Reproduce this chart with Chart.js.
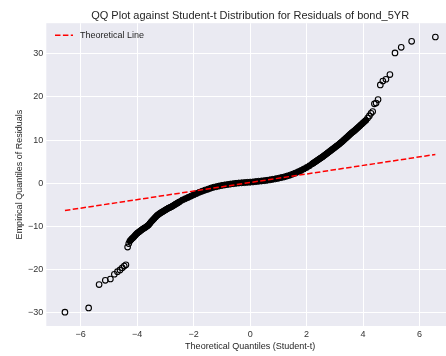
<!DOCTYPE html>
<html><head><meta charset="utf-8">
<script src="https://cdn.jsdelivr.net/npm/chart.js@4/dist/chart.umd.min.js"></script>
<style>
html,body{margin:0;padding:0;background:#fff;overflow:hidden;}
#clip{width:446px;height:356px;overflow:hidden;position:relative;}
#wrap{width:460px;height:356px;position:absolute;left:0;top:0;}
</style></head><body>
<div id="clip"><div id="wrap"><canvas id="c"></canvas></div></div>
<script>
// ---- data ----
const xTickValues = [-6, -4, -2, 0, 2, 4, 6];
const yTickValues = [-30, -20, -10, 0, 10, 20, 30];

const lineX = [-6.56, 6.56];
const lineY = [-6.33, 6.66];

const lowerTailX = [-6.56, -5.72, -5.35, -5.13, -4.95, -4.81, -4.70, -4.61, -4.53, -4.46, -4.40, -4.34, -4.30];
const lowerTailY = [-29.9, -28.9, -23.5, -22.5, -22.2, -21.1, -20.5, -20.1, -19.6, -19.2, -18.9, -14.8, -14.0];

const bodyX = [-4.26,-4.22,-4.18,-4.14,-4.10,-4.06,-4.02,-3.98,-3.94,-3.90,-3.85,-3.80,-3.75,-3.70,-3.65,-3.60,-3.55,-3.50,-3.45,-3.40,-3.35,-3.30,-3.25,-3.20,-3.15,-3.10,-3.05,-3.00,-2.95,-2.90,-2.85,-2.80,-2.75,-2.70,-2.65,-2.60,-2.55,-2.50,
  -2.40,-2.30,-2.20,-2.10,-2.00,-1.90,-1.80,-1.70,-1.60,-1.50,-1.40,-1.30,-1.20,-1.10,-1.00,-0.90,-0.80,-0.70,-0.60,-0.50,-0.40,-0.30,-0.20,-0.10,
  0.00,0.10,0.20,0.30,0.40,0.50,0.60,0.70,0.80,0.90,1.00,1.10,1.20,1.30,1.40,1.50,1.60,1.70,1.80,1.90,2.00,2.10,2.20,
  2.25,2.30,2.35,2.40,2.45,2.50,2.55,2.60,2.65,2.70,2.75,2.80,2.85,2.90,2.95,3.00,3.05,3.10,3.15,3.20,3.25,3.30,3.35,3.40,3.45,3.50,3.55,3.60,3.65,3.70,3.75,3.80,3.85,3.90,3.95,4.00,4.05,4.10];
const bodyY = [-13.4,-13.1,-12.8,-12.6,-12.3,-12.0,-11.7,-11.5,-11.3,-11.1,-10.85,-10.6,-10.4,-10.2,-9.95,-9.7,-9.3,-8.9,-8.55,-8.2,-7.85,-7.5,-7.25,-7.0,-6.8,-6.6,-6.4,-6.2,-6.0,-5.8,-5.65,-5.5,-5.3,-5.1,-4.9,-4.7,-4.5,-4.3,
  -3.9,-3.6,-3.3,-3.0,-2.7,-2.4,-2.1,-1.85,-1.6,-1.4,-1.15,-0.95,-0.8,-0.65,-0.5,-0.4,-0.3,-0.2,-0.1,-0.02,0.05,0.1,0.15,0.2,
  0.25,0.3,0.38,0.45,0.52,0.6,0.68,0.78,0.9,1.02,1.15,1.3,1.45,1.65,1.85,2.1,2.35,2.65,2.95,3.3,3.65,4.05,4.5,
  4.72,4.95,5.17,5.4,5.62,5.85,6.05,6.3,6.55,6.8,7.05,7.3,7.55,7.8,8.05,8.3,8.55,8.8,9.05,9.35,9.6,9.9,10.2,10.5,10.8,11.1,11.4,11.7,11.95,12.2,12.5,12.8,13.1,13.4,13.7,14.0,14.3,14.6];

const upperTailX = [4.16, 4.22, 4.28, 4.34, 4.40, 4.46, 4.53, 4.61, 4.70, 4.81, 4.95, 5.13, 5.35, 5.72, 6.56];
const upperTailY = [15.1, 15.6, 16.2, 16.6, 18.4, 18.6, 19.4, 22.8, 23.7, 24.1, 25.2, 30.2, 31.5, 32.9, 33.9];

// ---- chart ----
const FONT = "'Liberation Sans', Arial, sans-serif";
const toPts = (xs, ys) => xs.map((x, i) => ({ x: x, y: ys[i] }));
const fmt = v => (v < 0 ? '\u2212' + Math.abs(v) : String(v));

const bgPlugin = {
  id: 'plotBg',
  beforeDraw(chart) {
    const { ctx, chartArea: a } = chart;
    ctx.save();
    ctx.fillStyle = '#EAEAF2';
    ctx.fillRect(a.left, a.top, a.right - a.left, a.bottom - a.top);
    ctx.restore();
  }
};

// legend drawn inside the plot (upper left), built from the line dataset
const innerLegend = {
  id: 'innerLegend',
  afterDatasetsDraw(chart) {
    const ds = chart.data.datasets[0];
    const { ctx, chartArea: a } = chart;
    const x0 = a.left + 8.7, y0 = a.top + 12;
    ctx.save();
    ctx.strokeStyle = ds.borderColor;
    ctx.lineWidth = ds.borderWidth;
    ctx.setLineDash(ds.borderDash);
    ctx.beginPath();
    ctx.moveTo(x0, y0);
    ctx.lineTo(x0 + 18, y0);
    ctx.stroke();
    ctx.setLineDash([]);
    ctx.fillStyle = '#262626';
    ctx.font = "9px " + FONT;
    ctx.textBaseline = 'middle';
    ctx.textAlign = 'left';
    ctx.fillText(ds.label, x0 + 25, y0);
    ctx.restore();
  }
};

new Chart(document.getElementById('c'), {
  type: 'scatter',
  data: {
    datasets: [
      {
        label: 'Theoretical Line',
        data: toPts(lineX, lineY),
        showLine: true,
        borderColor: '#ff0000',
        backgroundColor: '#ff0000',
        borderWidth: 1.5,
        borderDash: [5.5, 2.4],
        pointRadius: 0,
        fill: false,
        order: 0
      },
      {
        label: 'Residual quantiles (tails)',
        data: toPts(lowerTailX.concat(upperTailX), lowerTailY.concat(upperTailY)),
        pointRadius: 2.8,
        pointHoverRadius: 2.8,
        borderWidth: 1.1,
        borderColor: '#000000',
        backgroundColor: 'rgba(0,0,0,0)',
        order: 1
      },
      {
        label: 'Residual quantiles (body)',
        data: toPts(bodyX, bodyY),
        pointRadius: 3,
        pointHoverRadius: 3,
        borderWidth: 1,
        borderColor: '#000000',
        backgroundColor: '#000000',
        order: 2
      }
    ]
  },
  options: {
    responsive: true,
    maintainAspectRatio: false,
    animation: false,
    layout: { padding: { left: 0, right: 6, top: 0, bottom: 0 } },
    plugins: {
      title: {
        display: true,
        text: 'QQ Plot against Student-t Distribution for Residuals of bond_5YR',
        fullSize: false,
        color: '#262626',
        font: { family: FONT, size: 11, weight: 'normal' },
        padding: { top: 9, bottom: 1 }
      },
      legend: { display: false },
      tooltip: { enabled: false }
    },
    scales: {
      x: {
        type: 'linear',
        min: -7.22,
        max: 7.22,
        afterBuildTicks: s => { s.ticks = xTickValues.map(v => ({ value: v })); },
        afterFit: s => { s.height = 30; },
        grid: { color: '#ffffff', lineWidth: 1, drawTicks: false },
        border: { display: false },
        ticks: { padding: 3, color: '#333333', font: { family: FONT, size: 9 }, callback: v => fmt(v) },
        title: { display: true, text: 'Theoretical Quantiles (Student-t)', color: '#262626', font: { family: FONT, size: 9 }, padding: { top: 1, bottom: 4 } }
      },
      y: {
        type: 'linear',
        min: -33.1,
        max: 37.1,
        afterBuildTicks: s => { s.ticks = yTickValues.map(v => ({ value: v })); },
        afterFit: s => { s.width = 46.3; },
        grid: { color: '#ffffff', lineWidth: 1, drawTicks: false },
        border: { display: false },
        ticks: { padding: 3, color: '#333333', font: { family: FONT, size: 9 }, callback: v => fmt(v) },
        title: { display: true, text: 'Empirical Quantiles of Residuals', color: '#262626', font: { family: FONT, size: 9 }, padding: { top: 14, bottom: 3 } }
      }
    }
  },
  plugins: [bgPlugin, innerLegend]
});
</script>
</body></html>
